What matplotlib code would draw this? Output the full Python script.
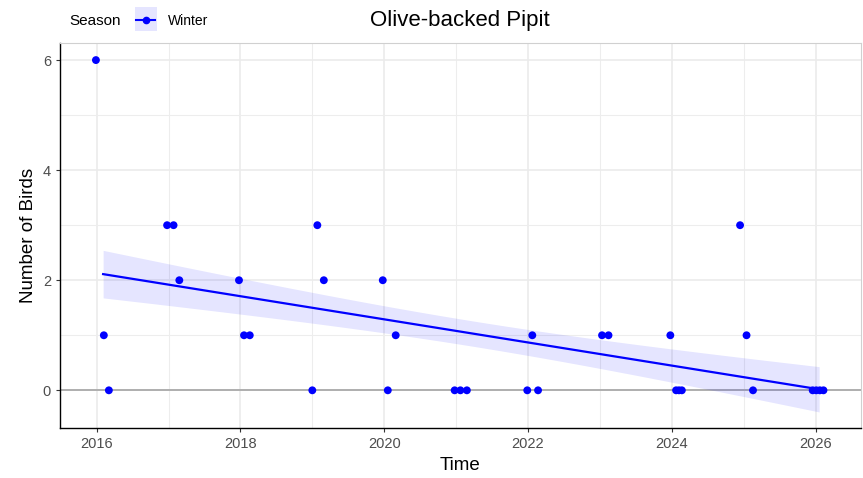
import numpy as np
import matplotlib.pyplot as plt
from matplotlib.patches import Rectangle
from matplotlib.lines import Line2D

plt.rcParams["font.family"] = ["Liberation Sans", "DejaVu Sans"]

# survey dates (decimal years) and counts
time = [2015.99, 2016.10, 2016.17, 2016.98, 2017.07, 2017.15, 2017.98, 2018.05,
        2018.13, 2019.00, 2019.07, 2019.16, 2019.98, 2020.05, 2020.16, 2020.98,
        2021.06, 2021.15, 2021.99, 2022.06, 2022.14, 2023.03, 2023.12, 2023.98,
        2024.06, 2024.10, 2024.14, 2024.95, 2025.04, 2025.13, 2025.96, 2026.01,
        2026.06, 2026.11]
birds = [6, 1, 0, 3, 3, 2, 2, 1,
         1, 0, 3, 2, 2, 0, 1, 0,
         0, 0, 0, 1, 0, 1, 1, 1,
         0, 0, 0, 3, 1, 0, 0, 0,
         0, 0]
years = [2016, 2018, 2020, 2022, 2024, 2026]

# trend line span and half-width of the band at its centre
fit_span = [2016.09, 2026.05]
band_mid = 0.23

x = np.array(time)
y = np.array(birds, dtype=float)

# linear fit; band shape follows the lm standard error
n = len(x)
b, a = np.polyfit(x, y, 1)
xs = np.linspace(fit_span[0], fit_span[1], 100)
shape = np.sqrt(1 / n + (xs - x.mean()) ** 2 / np.sum((x - x.mean()) ** 2))
half = band_mid * shape / np.sqrt(1 / n)
fit = a + b * xs

fig = plt.figure(figsize=(8.63, 4.78), dpi=100)
ax = fig.add_axes([0.0695, 0.104, 0.928, 0.806])

ax.fill_between(xs, fit - half, fit + half, color="#0000ff", alpha=0.1, lw=0, zorder=2)
ax.plot(xs, fit, color="#0000ff", lw=1.6, zorder=3)
ax.axhline(0, color="#aaaaaa", lw=1.3, zorder=1)
ax.scatter(x, y, color="#0000ff", s=32, zorder=4, edgecolors="none")

ax.set_xlim(2015.49, 2026.63)
ax.set_ylim(-0.69, 6.31)
ax.set_xticks(years)
ax.set_xticks([2017, 2019, 2021, 2023, 2025], minor=True)
ax.set_yticks([0, 2, 4, 6])
ax.set_yticks([1, 3, 5], minor=True)
ax.grid(which="major", color="#ebebeb", lw=1.2, zorder=0)
ax.grid(which="minor", color="#ededed", lw=0.8, zorder=0)
ax.set_axisbelow(True)

for side in ["top", "right"]:
    ax.spines[side].set_color("#d0d0d0")
for side in ["left", "bottom"]:
    ax.spines[side].set_color("black")
    ax.spines[side].set_linewidth(1.0)

ax.tick_params(which="major", length=3, color="#333333", labelsize=10.5, labelcolor="#4d4d4d")
ax.tick_params(which="minor", length=0)
ax.set_xlabel("Time", fontsize=13.5)
ax.set_ylabel("Number of Birds", fontsize=13.5)

fig.text(0.533, 0.957, "Olive-backed Pipit", ha="center", va="center", fontsize=16)

# legend drawn at the top left
fig.text(0.080, 0.957, "Season", ha="left", va="center", fontsize=11)
fig.patches.append(Rectangle((0.156, 0.935), 0.026, 0.050, transform=fig.transFigure,
                             facecolor="#e5e5ff", edgecolor="none"))
fig.lines.append(Line2D([0.158, 0.180], [0.959, 0.959], transform=fig.transFigure,
                        color="#0000ff", lw=1.5))
fig.lines.append(Line2D([0.169], [0.959], transform=fig.transFigure, color="#0000ff",
                        marker="o", markersize=4.5, lw=0))
fig.text(0.195, 0.957, "Winter", ha="left", va="center", fontsize=10)

plt.savefig("out.png", dpi=100)
